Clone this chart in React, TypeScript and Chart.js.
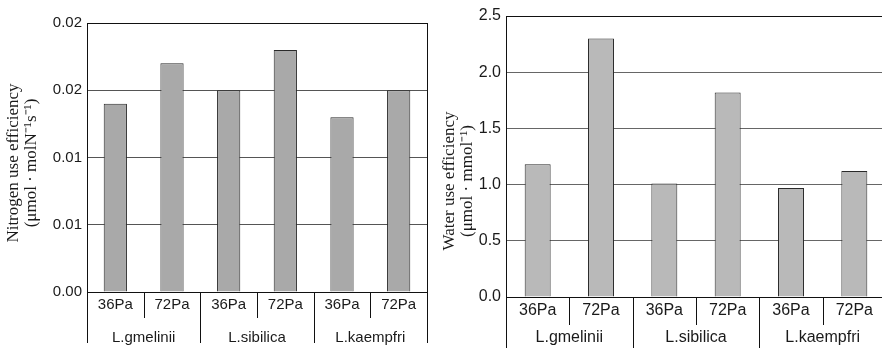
import React, { useEffect, useRef } from 'react';
import { Chart, registerables } from 'chart.js';

Chart.register(...registerables);

// ---- data ----
const subLabels = ['36Pa', '72Pa', '36Pa', '72Pa', '36Pa', '72Pa'];
const groupLabels = ['L.gmelinii', 'L.sibilica', 'L.kaempfri'];
const nitrogenValues = [0.014, 0.017, 0.015, 0.018, 0.013, 0.015];
const waterValues = [1.18, 2.3, 1.01, 1.82, 0.97, 1.12];
const nitrogenTickValues = [0, 0.005, 0.01, 0.015, 0.02];
const nitrogenTickLabels = ['0.00', '0.01', '0.01', '0.02', '0.02'];
const waterTickValues = [0, 0.5, 1.0, 1.5, 2.0, 2.5];
const waterTickLabels = ['0.0', '0.5', '1.0', '1.5', '2.0', '2.5'];
const nitrogenTitle = ['Nitrogen use efficiency', '(\u03bcmol \u00b7 molN\u207b\u00b9s\u207b\u00b9)'];
const waterTitle = ['Water use efficiency', '(\u03bcmol \u00b7 mmol\u207b\u00b9)'];

type Geo = {
  width: number;
  height: number;
  areaLeft: number;
  areaTop: number;
  areaBottom: number;
  padRight: number;
  subY: number;
  groupY: number;
  subLineEnd: number;
  groupLineEnd: number;
  titleX: number[];
  titleY: number;
  fontSize: number;
};

type Props = {
  values: number[];
  tickValues: number[];
  tickLabels: string[];
  title: string[];
  fill: string;
  gridColor: string;
  geo: Geo;
};

const SANS = '"Liberation Sans", Arial, sans-serif';
const SERIF = '"Liberation Serif", "Times New Roman", serif';

function BarPanel({ values, tickValues, tickLabels, title, fill, gridColor, geo }: Props) {
  const ref = useRef<HTMLCanvasElement | null>(null);

  useEffect(() => {
    const canvas = ref.current;
    if (!canvas) return;
    const max = tickValues[tickValues.length - 1];

    const groupAxisPlugin = {
      id: 'groupAxis',
      afterDraw(chart: any) {
        const ctx = chart.ctx as CanvasRenderingContext2D;
        const xs = chart.scales.x;
        const ys = chart.scales.y;
        const area = chart.chartArea;
        const n = subLabels.length;
        const p = (i: number) => xs.getPixelForValue(i);
        const half = (p(1) - p(0)) / 2;
        ctx.save();
        ctx.strokeStyle = '#111';
        ctx.lineWidth = 1;
        // right border of plot box
        const rx = Math.round(area.right) + 0.5;
        ctx.beginPath();
        ctx.moveTo(rx, Math.round(area.top));
        ctx.lineTo(rx, Math.round(area.bottom) + 1);
        ctx.stroke();
        // dividers
        for (let i = 0; i <= n; i++) {
          let bx: number;
          if (i === 0) bx = p(0) - half;
          else if (i === n) bx = p(n - 1) + half;
          else bx = (p(i - 1) + p(i)) / 2;
          bx = Math.round(bx) + 0.5;
          const end = i % 2 === 0 ? geo.groupLineEnd : geo.subLineEnd;
          ctx.beginPath();
          ctx.moveTo(bx, Math.round(area.bottom));
          ctx.lineTo(bx, end);
          ctx.stroke();
        }
        ctx.fillStyle = '#1a1a1a';
        ctx.font = `${geo.fontSize}px ${SANS}`;
        ctx.textAlign = 'center';
        ctx.textBaseline = 'middle';
        for (let i = 0; i < n; i++) {
          ctx.fillText(subLabels[i], p(i), geo.subY);
        }
        for (let g = 0; g < groupLabels.length; g++) {
          const cx = (p(2 * g) + p(2 * g + 1)) / 2;
          ctx.fillText(groupLabels[g], cx, geo.groupY);
        }
        // y-axis title (two lines, rotated)
        ctx.font = `17px ${SERIF}`;
        for (let k = 0; k < title.length; k++) {
          ctx.save();
          ctx.translate(geo.titleX[k], geo.titleY);
          ctx.rotate(-Math.PI / 2);
          ctx.fillText(title[k], 0, 0);
          ctx.restore();
        }
        ctx.restore();
      },
    };

    const chart = new Chart(canvas, {
      type: 'bar',
      data: {
        labels: subLabels,
        datasets: [
          {
            data: values,
            backgroundColor: fill,
            borderColor: '#2a2a2a',
            borderWidth: 1,
            barPercentage: 0.41,
            categoryPercentage: 1,
          },
        ],
      },
      options: {
        animation: false,
        responsive: false,
        devicePixelRatio: 1,
        events: [],
        layout: { padding: { top: geo.areaTop, right: geo.padRight, left: 0, bottom: 0 } },
        plugins: {
          legend: { display: false },
          tooltip: { enabled: false },
          title: { display: false },
        },
        scales: {
          x: {
            type: 'category',
            offset: true,
            ticks: { display: false },
            grid: { display: false },
            border: { display: true, color: '#111', width: 1 },
            afterFit: (s: any) => {
              s.height = geo.height - geo.areaBottom;
            },
          },
          y: {
            min: 0,
            max,
            afterBuildTicks: (s: any) => {
              s.ticks = tickValues.map((v) => ({ value: v }));
            },
            afterFit: (s: any) => {
              s.width = geo.areaLeft;
            },
            ticks: {
              padding: 5,
              color: '#1a1a1a',
              font: { family: SANS, size: geo.fontSize },
              callback: (_v: any, i: number) => tickLabels[i],
            },
            grid: {
              drawTicks: false,
              tickLength: 0,
              color: (c: any) => (c.tick && c.tick.value === max ? '#111' : gridColor),
              lineWidth: 1,
            },
            border: { display: true, color: '#111', width: 1 },
          },
        },
      },
      plugins: [groupAxisPlugin],
    });

    return () => chart.destroy();
  }, []);

  return <canvas ref={ref} width={geo.width} height={geo.height} style={{ display: 'block' }} />;
}

const leftGeo: Geo = {
  width: 441,
  height: 348,
  areaLeft: 87,
  areaTop: 23,
  areaBottom: 292,
  padRight: 14,
  subY: 305,
  groupY: 338,
  subLineEnd: 318,
  groupLineEnd: 343,
  titleX: [14, 32],
  titleY: 163,
  fontSize: 15,
};

const rightGeo: Geo = {
  width: 449,
  height: 348,
  areaLeft: 65,
  areaTop: 16,
  areaBottom: 297,
  padRight: 4,
  subY: 311,
  groupY: 338,
  subLineEnd: 325,
  groupLineEnd: 348,
  titleX: [9, 27],
  titleY: 181,
  fontSize: 16,
};

export default function App() {
  return (
    <div
      style={{
        position: 'fixed',
        left: 0,
        top: 0,
        width: 882,
        height: 348,
        overflow: 'hidden',
        background: '#fff',
      }}
    >
      <div style={{ position: 'absolute', left: 0, top: 0 }}>
        <BarPanel
          values={nitrogenValues}
          tickValues={nitrogenTickValues}
          tickLabels={nitrogenTickLabels}
          title={nitrogenTitle}
          fill="#a9a9a9"
          gridColor="#555"
          geo={leftGeo}
        />
      </div>
      <div style={{ position: 'absolute', left: 441, top: 0 }}>
        <BarPanel
          values={waterValues}
          tickValues={waterTickValues}
          tickLabels={waterTickLabels}
          title={waterTitle}
          fill="#b9b9b9"
          gridColor="#666"
          geo={rightGeo}
        />
      </div>
    </div>
  );
}
